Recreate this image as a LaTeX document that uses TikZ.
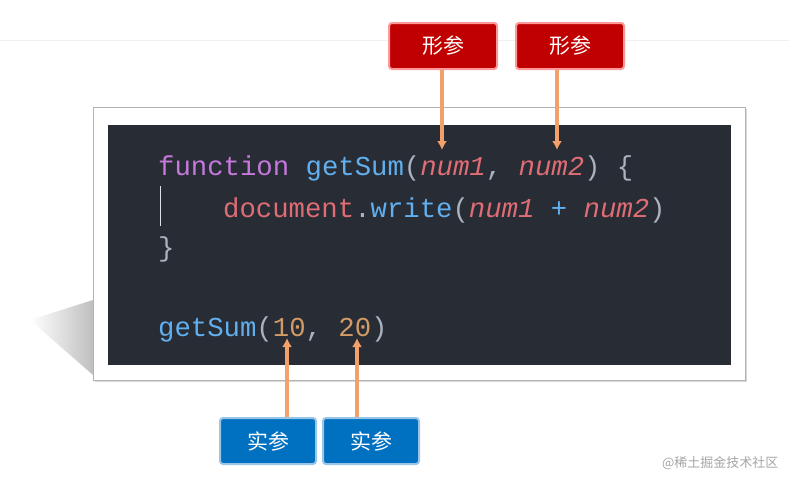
\documentclass[tikz,border=0pt]{standalone}
\usepackage{fontspec}
\usetikzlibrary{shadows,arrows.meta}
\setmonofont{Liberation Mono}
\newfontfamily\cjk{Noto Sans CJK SC}
\definecolor{bgc}{HTML}{282C34}
\definecolor{kw}{HTML}{C678DD}
\definecolor{fn}{HTML}{61AFEF}
\definecolor{pl}{HTML}{ABB2BF}
\definecolor{vr}{HTML}{E06C75}
\definecolor{nm}{HTML}{D19A66}
\definecolor{redb}{HTML}{C00000}
\definecolor{blueb}{HTML}{0070C0}
\definecolor{arr}{HTML}{F4A06A}
\begin{document}
\begin{tikzpicture}[x=1pt,y=-1pt,
 code/.style={anchor=base west,inner sep=0,font=\fontsize{27.3}{27}\ttfamily},
 rbox/.style={draw=red!40,line width=2pt,fill=redb,rounded corners=3pt,minimum width=108pt,minimum height=46pt,text=white,font=\cjk\fontsize{21}{21}\selectfont},
 bbox/.style={draw=blueb!40,line width=2pt,fill=blueb,rounded corners=3pt,minimum width=96pt,minimum height=46pt,text=white,font=\cjk\fontsize{21}{21}\selectfont},
 ar/.style={draw=arr,line width=3.5pt,-{Latex[length=9pt,width=10pt]}}]
\useasboundingbox (0,0) rectangle (789,479);
\fill[white] (0,0) rectangle (789,479);
\draw[black!6] (0,40) -- (789,40);
\shade[left color=white,right color=black!25] (30,320) -- (93,300) -- (93,375) -- cycle;
\node[draw=black!30,fill=white,minimum width=652pt,minimum height=273pt,inner sep=0,drop shadow={opacity=.3}] (frame) at (419,243.5) {};
\node[fill=bgc,minimum width=623pt,minimum height=240pt,inner sep=0] (panel) at (419.5,245) {};
\draw[pl!40] (160,186) -- (160,226);
\node[code] (l1) at (158,175) {\textcolor{kw}{function} \textcolor{fn}{getSum}\textcolor{pl}{(}\textcolor{vr}{\itshape num1}\textcolor{pl}{,} \textcolor{vr}{\itshape num2}\textcolor{pl}{) \{}};
\node[code] (l2) at (223,217) {\textcolor{vr}{document}\textcolor{pl}{.}\textcolor{fn}{write}\textcolor{pl}{(}\textcolor{vr}{\itshape num1} \textcolor{fn}{+} \textcolor{vr}{\itshape num2}\textcolor{pl}{)}};
\node[code] (l3) at (158,256) {\textcolor{pl}{\}}};
\node[code] (l4) at (158,336) {\textcolor{fn}{getSum}\textcolor{pl}{(}\textcolor{nm}{10}\textcolor{pl}{,} \textcolor{nm}{20}\textcolor{pl}{)}};
\node[rbox] (r1) at (443,46) {形参};
\node[rbox] (r2) at (570,46) {形参};
\node[bbox] (b1) at (268,441) {实参};
\node[bbox] (b2) at (371,441) {实参};
\coordinate (t1) at (442,150);
\coordinate (t2) at (557,150);
\coordinate (t3) at (287,338);
\coordinate (t4) at (357,338);
\draw[ar] (r1.south -| t1) -- (t1);
\draw[ar] (r2.south -| t2) -- (t2);
\draw[ar] (b1.north -| t3) -- (t3);
\draw[ar] (b2.north -| t4) -- (t4);
\node[anchor=east,text=black!35,font=\cjk\fontsize{13}{13}\selectfont] (wm) at (782,463) {@稀土掘金技术社区};
\end{tikzpicture}
\end{document}
